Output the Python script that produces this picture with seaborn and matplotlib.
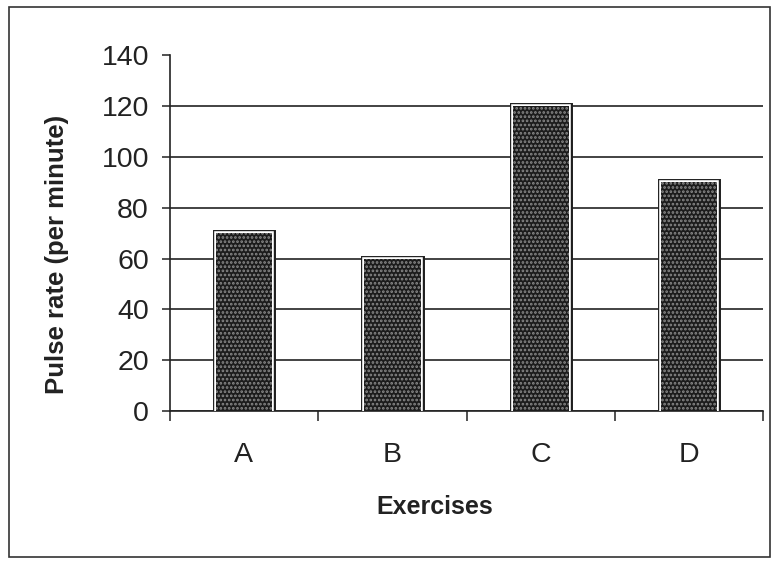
import pandas as pd
import seaborn as sns
import matplotlib.pyplot as plt
import matplotlib.patheffects as pe
from matplotlib.patches import Rectangle
from matplotlib.ticker import FixedLocator

# chart data
exercises = ["A", "B", "C", "D"]
pulse_rate = [70, 60, 120, 90]
y_ticks = [0, 20, 40, 60, 80, 100, 120, 140]

df = pd.DataFrame({"Exercises": exercises, "Pulse rate": pulse_rate})

sns.set_theme(style="white")
plt.rcParams["font.family"] = ["Liberation Sans", "DejaVu Sans"]
plt.rcParams["hatch.linewidth"] = 1.3

fig = plt.figure(figsize=(7.75, 5.61), dpi=100)
ax = fig.add_axes([0.219, 0.267, 0.766, 0.635])

# stippled dark bars with white inner ring and dark outline
sns.barplot(data=df, x="Exercises", y="Pulse rate", ax=ax,
            color="#1c1c1c", width=0.38, saturation=1, zorder=3)
for p in ax.patches:
    p.set_facecolor("#1c1c1c")
    p.set_edgecolor("#8a8a8a")   # hatch (speckle) colour
    p.set_linewidth(0)
    p.set_hatch("....")
    p.set_path_effects([pe.Stroke(linewidth=5.0, foreground="#1e1e1e"),
                        pe.Stroke(linewidth=2.6, foreground="#ffffff"),
                        pe.Normal()])

ax.set_ylim(0, 140)
ax.set_xlim(-0.5, len(exercises) - 0.5)
ax.set_yticks(y_ticks)

# grid lines at 20..120
ax.yaxis.grid(True, color="#222222", linewidth=1.2, zorder=0)
ax.set_axisbelow(True)
ax.get_ygridlines()[-1].set_visible(False)

for s in ["top", "right"]:
    ax.spines[s].set_visible(False)
for s in ["left", "bottom"]:
    ax.spines[s].set_color("#222222")
    ax.spines[s].set_linewidth(1.2)

# category boundary ticks on x axis
ax.xaxis.set_minor_locator(FixedLocator([i - 0.5 for i in range(len(exercises) + 1)]))
ax.tick_params(axis="x", which="major", length=0, pad=22, labelsize=20.5, colors="#222222")
ax.tick_params(axis="x", which="minor", bottom=True, length=7, width=1.1, color="#222222")
ax.tick_params(axis="y", left=True, length=6, width=1.1, pad=9, labelsize=20.5,
               colors="#222222")

ax.set_xlabel("Exercises", fontsize=18, fontweight="bold", color="#222222")
ax.set_ylabel("Pulse rate (per minute)", fontsize=18.5, fontweight="bold", color="#222222")
ax.xaxis.set_label_coords(0.447, -0.236)
ax.yaxis.set_label_coords(-0.17, 0.441)

# frame around the whole chart
fig.patches.append(Rectangle((0.011, 0.008), 0.983, 0.98, transform=fig.transFigure,
                             fill=False, edgecolor="#333333", linewidth=1.2))

fig.savefig("out.png", dpi=100)
